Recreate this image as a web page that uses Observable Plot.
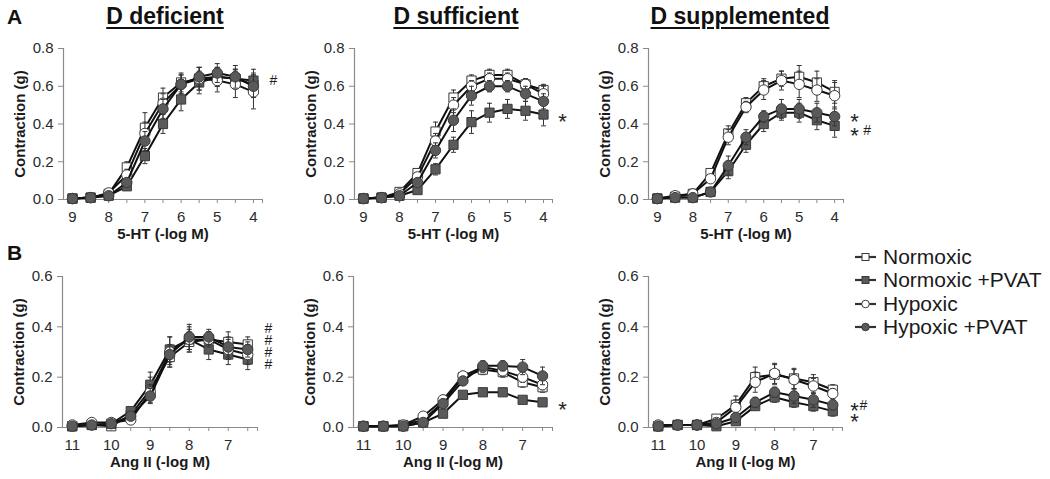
<!DOCTYPE html>
<html><head><meta charset="utf-8">
<script src="https://cdn.jsdelivr.net/npm/d3@7"></script>
<script src="https://cdn.jsdelivr.net/npm/@observablehq/plot@0.6"></script>
<style>
body{margin:0;background:#fff;font-family:"Liberation Sans",Arial,sans-serif;}
#root{position:relative;width:1050px;height:479px;overflow:hidden;background:#fff;}
.panel{position:absolute;}
.panel svg{background:transparent !important;max-width:none !important;overflow:visible;}
.title{position:absolute;font-weight:bold;font-size:23px;line-height:normal;text-decoration:underline;text-decoration-thickness:2px;text-underline-offset:3px;transform:translateX(-50%);white-space:nowrap;color:#111;}
.letter{position:absolute;font-weight:bold;font-size:21px;line-height:normal;color:#111;}
.lg{position:absolute;display:flex;align-items:center;height:24px;font-size:21px;color:#1a1a1a;white-space:nowrap;}
.lg svg{margin-right:6px;}
</style></head><body><div id="root"></div><script>
// ---------- data ----------
const seriesNames = ["Normoxic", "Normoxic +PVAT", "Hypoxic", "Hypoxic +PVAT"];
const dose5HT = [9, 8.5, 8, 7.5, 7, 6.5, 6, 5.5, 5, 4.5, 4];
const doseAngII = [11, 10.5, 10, 9.5, 9, 8.5, 8, 7.5, 7, 6.5];
const tickLabels5HT = [9, 8, 7, 6, 5, 4];
const tickLabelsAngII = [11, 10, 9, 8, 7];
const yTicksA = [0, 0.2, 0.4, 0.6, 0.8];
const yTicksB = [0, 0.2, 0.4, 0.6];
const panelTitles = ["D deficient", "D sufficient", "D supplemented"];

// A: 5-HT, D deficient
const def5ht_norm     = [0.005,0.01,0.03,0.17,0.38,0.54,0.62,0.64,0.65,0.64,0.61];
const def5ht_normPvat = [0.005,0.01,0.02,0.07,0.23,0.40,0.53,0.62,0.65,0.64,0.63];
const def5ht_hyp      = [0.005,0.01,0.035,0.13,0.35,0.51,0.61,0.64,0.63,0.61,0.57];
const def5ht_hypPvat  = [0.005,0.01,0.02,0.09,0.31,0.48,0.61,0.65,0.67,0.65,0.60];
const def5ht_normErr     = [0.005,0.005,0.01,0.03,0.08,0.05,0.05,0.06,0.05,0.05,0.06];
const def5ht_normPvatErr = [0.005,0.005,0.01,0.02,0.04,0.05,0.06,0.06,0.05,0.05,0.06];
const def5ht_hypErr      = [0.005,0.005,0.01,0.03,0.06,0.05,0.05,0.06,0.06,0.07,0.09];
const def5ht_hypPvatErr  = [0.005,0.005,0.01,0.02,0.05,0.05,0.05,0.05,0.05,0.06,0.06];
// A: 5-HT, D sufficient
const suf5ht_norm     = [0.005,0.01,0.04,0.14,0.36,0.54,0.63,0.66,0.66,0.61,0.58];
const suf5ht_normPvat = [0.005,0.01,0.02,0.05,0.16,0.29,0.41,0.46,0.48,0.47,0.45];
const suf5ht_hyp      = [0.005,0.01,0.03,0.12,0.31,0.50,0.60,0.64,0.64,0.61,0.56];
const suf5ht_hypPvat  = [0.005,0.01,0.02,0.09,0.26,0.42,0.55,0.60,0.60,0.56,0.52];
const suf5ht_normErr     = [0.005,0.005,0.01,0.02,0.05,0.04,0.03,0.03,0.03,0.03,0.03];
const suf5ht_normPvatErr = [0.005,0.005,0.01,0.01,0.03,0.04,0.06,0.05,0.05,0.05,0.06];
const suf5ht_hypErr      = [0.005,0.005,0.01,0.02,0.04,0.04,0.03,0.03,0.03,0.03,0.04];
const suf5ht_hypPvatErr  = [0.005,0.005,0.01,0.02,0.04,0.06,0.05,0.03,0.03,0.04,0.04];
// A: 5-HT, D supplemented
const sup5ht_norm     = [0.005,0.015,0.03,0.14,0.35,0.51,0.60,0.64,0.65,0.62,0.57];
const sup5ht_normPvat = [0.005,0.01,0.01,0.04,0.15,0.29,0.40,0.46,0.46,0.42,0.39];
const sup5ht_hyp      = [0.005,0.02,0.03,0.11,0.33,0.49,0.58,0.63,0.61,0.58,0.55];
const sup5ht_hypPvat  = [0.005,0.01,0.01,0.04,0.18,0.33,0.44,0.48,0.48,0.46,0.44];
const sup5ht_normErr     = [0.005,0.01,0.01,0.02,0.04,0.03,0.04,0.04,0.06,0.06,0.06];
const sup5ht_normPvatErr = [0.005,0.005,0.005,0.02,0.04,0.04,0.04,0.04,0.05,0.05,0.06];
const sup5ht_hypErr      = [0.005,0.01,0.01,0.02,0.04,0.03,0.05,0.05,0.07,0.06,0.07];
const sup5ht_hypPvatErr  = [0.005,0.005,0.005,0.02,0.05,0.04,0.03,0.05,0.05,0.05,0.05];
// B: Ang II, D deficient
const defAng_norm     = [0.005,0.01,0.005,0.05,0.15,0.28,0.34,0.35,0.34,0.33];
const defAng_normPvat = [0.005,0.01,0.015,0.065,0.17,0.31,0.35,0.31,0.29,0.27];
const defAng_hyp      = [0.01,0.02,0.02,0.03,0.14,0.30,0.35,0.35,0.31,0.29];
const defAng_hypPvat  = [0.005,0.01,0.015,0.045,0.125,0.29,0.36,0.36,0.32,0.31];
const defAng_normErr     = [0.005,0.005,0.005,0.01,0.05,0.04,0.04,0.03,0.04,0.03];
const defAng_normPvatErr = [0.005,0.005,0.005,0.01,0.05,0.05,0.04,0.04,0.04,0.04];
const defAng_hypErr      = [0.005,0.005,0.005,0.01,0.03,0.06,0.05,0.03,0.04,0.04];
const defAng_hypPvatErr  = [0.005,0.005,0.005,0.01,0.03,0.04,0.05,0.03,0.04,0.03];
// B: Ang II, D sufficient
const sufAng_norm     = [0.005,0.005,0.01,0.03,0.10,0.20,0.23,0.22,0.18,0.16];
const sufAng_normPvat = [0.005,0.005,0.005,0.02,0.055,0.13,0.14,0.14,0.11,0.10];
const sufAng_hyp      = [0.005,0.005,0.01,0.045,0.11,0.205,0.24,0.225,0.20,0.17];
const sufAng_hypPvat  = [0.005,0.005,0.005,0.02,0.095,0.185,0.245,0.245,0.24,0.205];
const sufAng_normErr     = [0.002,0.002,0.005,0.01,0.01,0.015,0.02,0.02,0.02,0.02];
const sufAng_normPvatErr = [0.002,0.002,0.003,0.005,0.01,0.01,0.01,0.01,0.01,0.015];
const sufAng_hypErr      = [0.002,0.002,0.005,0.01,0.01,0.015,0.02,0.02,0.02,0.02];
const sufAng_hypPvatErr  = [0.002,0.002,0.003,0.005,0.01,0.015,0.02,0.02,0.03,0.035];
// B: Ang II, D supplemented
const supAng_norm     = [0.005,0.01,0.01,0.035,0.09,0.20,0.21,0.195,0.18,0.15];
const supAng_normPvat = [0.005,0.01,0.01,0.005,0.025,0.085,0.12,0.10,0.085,0.065];
const supAng_hyp      = [0.01,0.01,0.01,0.02,0.08,0.18,0.215,0.19,0.165,0.135];
const supAng_hypPvat  = [0.005,0.01,0.01,0.015,0.04,0.10,0.14,0.125,0.11,0.09];
const supAng_normErr     = [0.002,0.005,0.005,0.01,0.02,0.04,0.04,0.04,0.03,0.02];
const supAng_normPvatErr = [0.002,0.002,0.002,0.005,0.01,0.015,0.02,0.02,0.02,0.02];
const supAng_hypErr      = [0.003,0.005,0.005,0.01,0.045,0.04,0.04,0.04,0.03,0.02];
const supAng_hypPvatErr  = [0.002,0.002,0.002,0.005,0.01,0.02,0.02,0.03,0.03,0.02];

// significance marks (data units)
const notesDef5ht = [{x:3.45, y:0.63, t:"#"}];
const notesSuf5ht = [{x:3.47, y:0.44, t:"*"}];
const notesSup5ht = [{x:3.44, y:0.44, t:"*"}, {x:3.44, y:0.37, t:"*"}, {x:3.08, y:0.366, t:"#"}];
const notesDefAng = [{x:5.97, y:0.393, t:"#"}, {x:5.97, y:0.346, t:"#"}, {x:5.97, y:0.298, t:"#"}, {x:5.97, y:0.25, t:"#"}];
const notesSufAng = [{x:6.0, y:0.093, t:"*"}];
const notesSupAng = [{x:5.94, y:0.09, t:"*"}, {x:5.71, y:0.087, t:"#"}, {x:5.94, y:0.046, t:"*"}];

// ---------- drawing ----------
const FONT = "'Liberation Sans', Arial, sans-serif";
const AXIS = "#8a8a8a";
const styles = [
  {symbol: "square", fill: "#fff"},
  {symbol: "square", fill: "#5a5a5a"},
  {symbol: "circle", fill: "#fff"},
  {symbol: "circle", fill: "#5a5a5a"}
];
const capSymbol = {draw(ctx, size) { const w = Math.sqrt(size) / 2; ctx.moveTo(-w, 0); ctx.lineTo(w, 0); }};
const glyphSize = {"#": 14, "*": 22};
const glyphDy = {"#": 0, "*": 5.8};

const root = document.getElementById("root");
const ML = 60, MR = 45, MT = 12, MB = 55;

function noteMarks(notes, cfg, stacks) {
  // stacked glyphs of one kind at one x become one text element, one glyph per row
  const groups = d3.groups(notes, d => d.t + "|" + d.x);
  return groups.map(([, g]) => {
    const t = g[0].t, fs = glyphSize[t];
    const ys = g.map(d => d.y).sort((a, b) => b - a);
    const pxPerUnit = cfg.h / cfg.yMax;
    const spacing = ys.length > 1 ? (ys[0] - ys[ys.length - 1]) / (ys.length - 1) * pxPerUnit : 0;
    const str = ys.map(() => t).join("");
    stacks.push({str, n: ys.length, spacing});
    return Plot.text([{x: g[0].x, y: d3.mean(ys), t: str}],
      {x: "x", y: "y", text: "t", fontSize: fs, dy: glyphDy[t], fill: "#222"});
  });
}

function drawPanel(cfg) {
  const rows = cfg.values.map((vals, si) => vals.map((v, i) => ({dose: cfg.doses[i], v, e: cfg.errs[si][i], s: seriesNames[si]})));
  const marks = [
    Plot.ruleY([0], {stroke: AXIS, strokeWidth: 1.2}),
    Plot.ruleX([cfg.xDomain[0]], {stroke: AXIS, strokeWidth: 1.2}),
    Plot.axisY({ticks: cfg.yTicks, tickFormat: d3.format(".1f"), tickSize: 5, tickPadding: 5, stroke: AXIS, fill: "#2a2a2a", fontSize: 15, label: null}),
    Plot.axisX({ticks: cfg.doses.concat([cfg.xDomain[1]]), tickFormat: d => cfg.labelTicks.includes(d) ? String(d) : "", tickSize: 4, tickPadding: 8, stroke: AXIS, fill: "#2a2a2a", fontSize: 15, label: null}),
    Plot.text([cfg.yLabel], {frameAnchor: "left", textAnchor: "middle", dx: -43, rotate: -90, text: d => d, fontWeight: "bold", fontSize: 15, fill: "#1a1a1a"}),
    Plot.text([cfg.xLabel], {frameAnchor: "bottom", dy: 39, text: d => d, fontWeight: "bold", fontSize: 15, fill: "#1a1a1a"})
  ];
  rows.forEach((sr, si) => {
    marks.push(
      Plot.ruleX(sr, {x: "dose", y1: d => d.v - d.e, y2: d => d.v + d.e, stroke: "#333", strokeWidth: 1}),
      Plot.dot(sr, {x: "dose", y: d => d.v + d.e, symbol: capSymbol, r: 2.8, fill: "none", stroke: "#333", strokeWidth: 1}),
      Plot.dot(sr, {x: "dose", y: d => d.v - d.e, symbol: capSymbol, r: 2.8, fill: "none", stroke: "#333", strokeWidth: 1}),
      Plot.line(sr, {x: "dose", y: "v", stroke: "#111", strokeWidth: 2}),
      Plot.dot(sr, {x: "dose", y: "v", symbol: styles[si].symbol, r: 5.2, fill: styles[si].fill, stroke: "#3a3a3a", strokeWidth: 1})
    );
  });
  const stacks = [];
  marks.push(...noteMarks(cfg.notes, cfg, stacks));
  const plot = Plot.plot({
    width: ML + cfg.w + MR, height: MT + cfg.h + MB,
    marginLeft: ML, marginRight: MR, marginTop: MT, marginBottom: MB,
    x: {domain: cfg.xDomain},
    y: {domain: [0, cfg.yMax]},
    style: {fontFamily: FONT, background: "transparent", overflow: "visible"},
    marks
  });
  // lay the glyphs of each stack out vertically inside their single text element
  stacks.forEach(({str, n, spacing}) => {
    if (n < 2) return;
    plot.querySelectorAll("text").forEach(el => {
      if (el.textContent !== str || el.querySelector("tspan")) return;
      const x0 = el.getAttribute("x") || "0";
      el.setAttribute("x", d3.range(n).map(() => x0).join(" "));
      el.setAttribute("dy", d3.range(n).map(i => i === 0 ? -(n - 1) / 2 * spacing : spacing).join(" "));
    });
  });
  const div = document.createElement("div");
  div.className = "panel";
  div.style.left = (cfg.left - ML) + "px";
  div.style.top = (cfg.top - MT) + "px";
  div.appendChild(plot);
  root.appendChild(div);
}

const topRow = [
  {left: 63, w: 199, values: [def5ht_norm, def5ht_normPvat, def5ht_hyp, def5ht_hypPvat], errs: [def5ht_normErr, def5ht_normPvatErr, def5ht_hypErr, def5ht_hypPvatErr], notes: notesDef5ht},
  {left: 354, w: 198, values: [suf5ht_norm, suf5ht_normPvat, suf5ht_hyp, suf5ht_hypPvat], errs: [suf5ht_normErr, suf5ht_normPvatErr, suf5ht_hypErr, suf5ht_hypPvatErr], notes: notesSuf5ht},
  {left: 648, w: 195, values: [sup5ht_norm, sup5ht_normPvat, sup5ht_hyp, sup5ht_hypPvat], errs: [sup5ht_normErr, sup5ht_normPvatErr, sup5ht_hypErr, sup5ht_hypPvatErr], notes: notesSup5ht}
];
const bottomRow = [
  {left: 62, w: 195, values: [defAng_norm, defAng_normPvat, defAng_hyp, defAng_hypPvat], errs: [defAng_normErr, defAng_normPvatErr, defAng_hypErr, defAng_hypPvatErr], notes: notesDefAng},
  {left: 353, w: 199, values: [sufAng_norm, sufAng_normPvat, sufAng_hyp, sufAng_hypPvat], errs: [sufAng_normErr, sufAng_normPvatErr, sufAng_hypErr, sufAng_hypPvatErr], notes: notesSufAng},
  {left: 648, w: 194, values: [supAng_norm, supAng_normPvat, supAng_hyp, supAng_hypPvat], errs: [supAng_normErr, supAng_normPvatErr, supAng_hypErr, supAng_hypPvatErr], notes: notesSupAng}
];
topRow.forEach(p => drawPanel(Object.assign({top: 48, h: 151, doses: dose5HT, xDomain: [9.25, 3.75], labelTicks: tickLabels5HT, yTicks: yTicksA, yMax: 0.8, yLabel: "Contraction (g)", xLabel: "5-HT (-log M)"}, p)));
bottomRow.forEach(p => drawPanel(Object.assign({top: 276, h: 151, doses: doseAngII, xDomain: [11.25, 6.25], labelTicks: tickLabelsAngII, yTicks: yTicksB, yMax: 0.6, yLabel: "Contraction (g)", xLabel: "Ang II (-log M)"}, p)));

// titles and panel letters
[165, 456, 740].forEach((cx, i) => {
  const t = document.createElement("div");
  t.className = "title"; t.textContent = panelTitles[i];
  t.style.left = cx + "px"; t.style.top = "3px";
  root.appendChild(t);
});
[["A", 5], ["B", 241]].forEach(([s, top]) => {
  const l = document.createElement("div");
  l.className = "letter"; l.textContent = s;
  l.style.left = "7px"; l.style.top = top + "px";
  root.appendChild(l);
});

// legend
seriesNames.forEach((name, i) => {
  const row = document.createElement("div");
  row.className = "lg";
  row.style.left = "854px";
  row.style.top = (257 + i * 23.4 - 12) + "px";
  const ns = "http://www.w3.org/2000/svg";
  const svg = document.createElementNS(ns, "svg");
  svg.setAttribute("width", "23"); svg.setAttribute("height", "14");
  const ln = document.createElementNS(ns, "line");
  ln.setAttribute("x1", 1); ln.setAttribute("x2", 22); ln.setAttribute("y1", 7); ln.setAttribute("y2", 7);
  ln.setAttribute("stroke", "#333"); ln.setAttribute("stroke-width", 2.2);
  svg.appendChild(ln);
  let m;
  if (styles[i].symbol === "square") {
    m = document.createElementNS(ns, "rect");
    m.setAttribute("x", 8); m.setAttribute("y", 3.5); m.setAttribute("width", 7); m.setAttribute("height", 7);
  } else {
    m = document.createElementNS(ns, "circle");
    m.setAttribute("cx", 11.5); m.setAttribute("cy", 7); m.setAttribute("r", 3.8);
  }
  m.setAttribute("fill", styles[i].fill); m.setAttribute("stroke", "#3a3a3a"); m.setAttribute("stroke-width", 1);
  svg.appendChild(m);
  row.appendChild(svg);
  const span = document.createElement("span");
  span.textContent = name;
  row.appendChild(span);
  root.appendChild(row);
});
</script></body></html>
